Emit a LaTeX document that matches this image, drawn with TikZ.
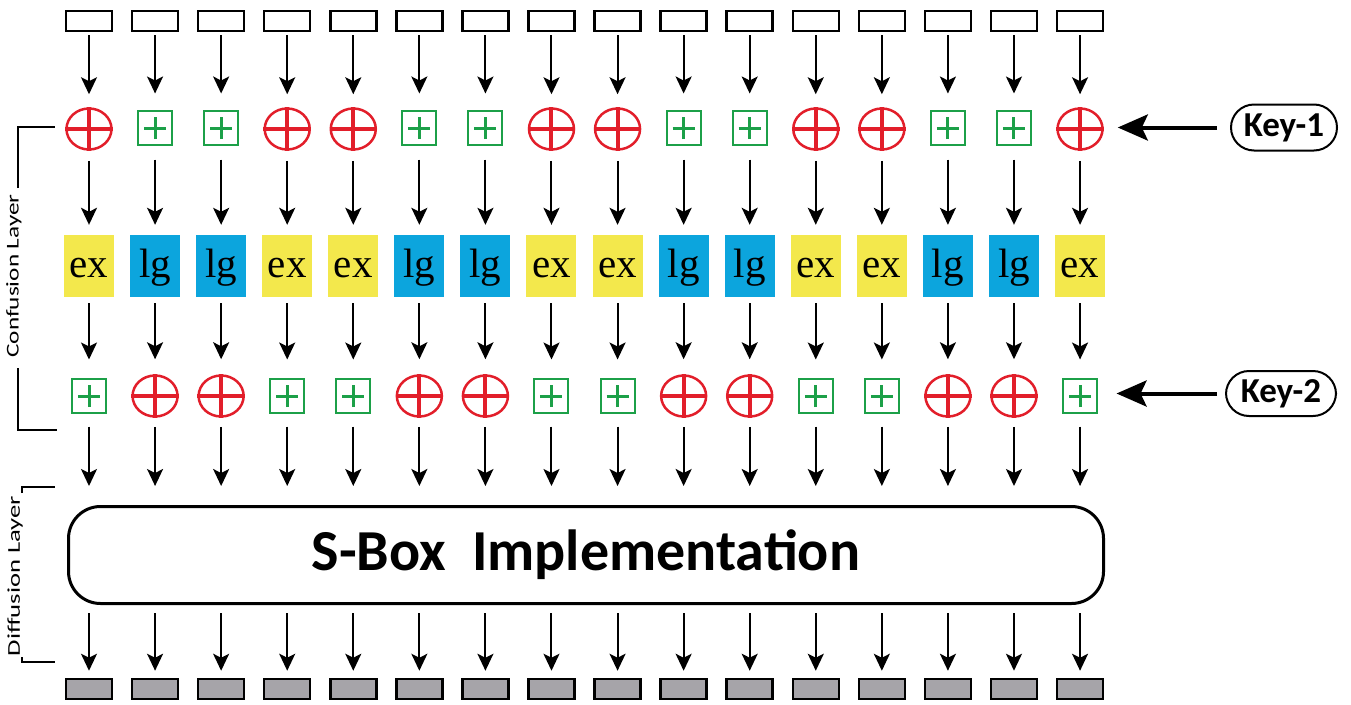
\documentclass[tikz,border=0pt]{standalone}
\usepackage{fontspec}
\setmainfont{Liberation Serif}
\newfontfamily\calibri{Carlito}
\usetikzlibrary{arrows.meta,shapes.geometric}

\definecolor{xorred}{RGB}{226,30,42}
\definecolor{addgreen}{RGB}{28,160,72}
\definecolor{exyellow}{RGB}{243,232,76}
\definecolor{lgblue}{RGB}{12,165,221}
\definecolor{outgray}{RGB}{166,164,169}

\begin{document}
\begin{tikzpicture}[x=1pt,y=-1pt,
  inbox/.style={draw, line width=2.5pt, minimum width=46pt, minimum height=20pt, inner sep=0pt},
  outbox/.style={inbox, fill=outgray},
  xorop/.style={ellipse, draw=xorred, line width=2.5pt, minimum width=45pt, minimum height=41pt, inner sep=0pt},
  addop/.style={rectangle, draw=addgreen, line width=2pt, minimum size=34pt, inner sep=0pt, outer sep=4.5pt},
  xorcross/.style={xorred, line width=4pt},
  addcross/.style={addgreen, line width=3pt},
  fbox/.style={minimum width=50pt, minimum height=62pt, inner sep=0pt, text height=30pt, text depth=8pt,
    font=\fontsize{41}{43}\selectfont},
  exbox/.style={fbox, fill=exyellow},
  lgbox/.style={fbox, fill=lgblue},
  colarrow/.style={line width=2pt, -{Stealth[length=17pt, width=16pt, inset=4pt]}},
  keyarrow/.style={line width=4pt, -{Stealth[length=30pt, width=26pt, inset=6pt]}},
  keypill/.style={draw, line width=2pt, rounded corners=23pt, inner sep=0pt,
    font=\calibri\bfseries\fontsize{35}{36}\selectfont},
  sbox/.style={draw, line width=3pt, rounded corners=32pt, minimum width=1035pt, minimum height=97pt,
    font=\calibri\bfseries\fontsize{58}{60}\selectfont},
  layerlabel/.style={rotate=90, inner sep=0pt, font=\calibri\fontsize{18}{20}\selectfont},
  bracket/.style={line width=2pt}
]
\useasboundingbox (0,0) rectangle (1351,704);

% S-box block
\node[sbox] (sbox) at (586,555) {S-Box\ \ Implementation};

% columns: input, key-1 mix, ex/lg function, key-2 mix, output
\foreach \i in {0,...,15} {
  \pgfmathsetmacro\cx{89+66.07*\i}
  \pgfmathtruncatemacro\m{mod(\i,4)}
  \node[inbox] (in\i) at (\cx,21) {};
  \node[outbox] (out\i) at (\cx,689) {};
  \ifnum\m=1 \def\kind{0}\else\ifnum\m=2 \def\kind{0}\else\def\kind{1}\fi\fi
  \ifnum\kind=1
    \node[xorop] (ka\i) at (\cx,129) {};
    \draw[xorcross] (ka\i.north) -- (ka\i.south) (ka\i.west) -- (ka\i.east);
    \node[exbox] (f\i) at (\cx,266) {ex};
    \node[addop] (kb\i) at (\cx,396) {};
    \draw[addcross] ([xshift=-11pt]kb\i.center) -- ([xshift=11pt]kb\i.center)
                    ([yshift=-11pt]kb\i.center) -- ([yshift=11pt]kb\i.center);
  \else
    \node[addop] (ka\i) at (\cx,128) {};
    \draw[addcross] ([xshift=-11pt]ka\i.center) -- ([xshift=11pt]ka\i.center)
                    ([yshift=-11pt]ka\i.center) -- ([yshift=11pt]ka\i.center);
    \node[lgbox] (f\i) at (\cx,266) {lg};
    \node[xorop] (kb\i) at (\cx,396) {};
    \draw[xorcross] (kb\i.north) -- (kb\i.south) (kb\i.west) -- (kb\i.east);
  \fi
}

% vertical data flow
\foreach \i in {0,...,15} {
  \draw[colarrow, shorten <=3pt, shorten >=13pt] (in\i.south) -- (ka\i.north);
  \draw[colarrow, shorten <=10pt, shorten >=10pt] (ka\i.south) -- (f\i.north);
  \draw[colarrow, shorten <=6pt, shorten >=15pt] (f\i.south) -- (kb\i.north);
  \draw[colarrow, shorten <=9pt, shorten >=19pt] (kb\i.south) -- (kb\i.south |- sbox.north);
  \draw[colarrow, shorten <=8pt, shorten >=7pt] (out\i.north |- sbox.south) -- (out\i.north);
}

% round keys
\node[keypill, minimum width=106pt, minimum height=46pt] (key1) at (1284,127.5) {Key-1};
\node[keypill, minimum width=110pt, minimum height=45pt] (key2) at (1281,393.5) {Key-2};
\draw[keyarrow, shorten <=13pt, shorten >=14pt] (key1.west) -- (key1.west -| ka15.east);
\draw[keyarrow, shorten <=8pt, shorten >=15pt] (key2.west) -- (key2.west -| kb15.east);

% layer brackets and labels
\node[layerlabel] (conf) at (14,276) {\scalebox{1.4}[1]{Confusion Layer}};
\node[layerlabel] (diff) at (15,576) {\scalebox{1.48}[1]{Diffusion Layer}};
\draw[bracket] (18,188) -- (18,127) -- (55,127);
\draw[bracket] (18,368) -- (18,430) -- (57,430);
\draw[bracket] (22,493) -- (22,487) -- (55,487);
\draw[bracket] (22,657) -- (22,662) -- (55,662);
\end{tikzpicture}
\end{document}
